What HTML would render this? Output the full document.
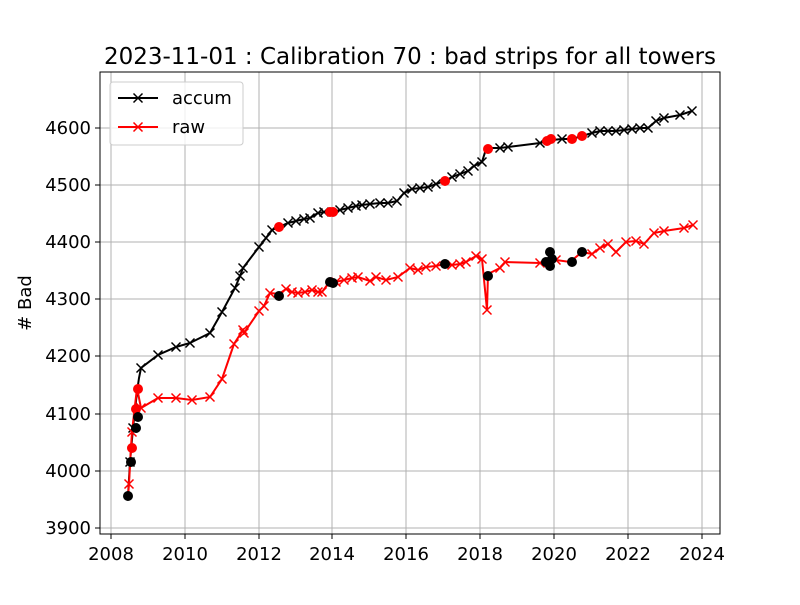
<!DOCTYPE html><html><head><style>body{margin:0;background:#fff}svg text{font-family:"DejaVu Sans","Liberation Sans",sans-serif}</style></head><body>
<svg width="800" height="600" xmlns="http://www.w3.org/2000/svg">
<rect width="800" height="600" fill="#fff"/>
<g stroke="#b0b0b0" stroke-width="1">
<line x1="111" y1="72" x2="111" y2="534"/><line x1="185" y1="72" x2="185" y2="534"/><line x1="259" y1="72" x2="259" y2="534"/><line x1="332" y1="72" x2="332" y2="534"/><line x1="406" y1="72" x2="406" y2="534"/><line x1="480" y1="72" x2="480" y2="534"/><line x1="554" y1="72" x2="554" y2="534"/><line x1="628" y1="72" x2="628" y2="534"/><line x1="702" y1="72" x2="702" y2="534"/>
<line x1="100" y1="128" x2="720" y2="128"/><line x1="100" y1="185" x2="720" y2="185"/><line x1="100" y1="242" x2="720" y2="242"/><line x1="100" y1="299" x2="720" y2="299"/><line x1="100" y1="356" x2="720" y2="356"/><line x1="100" y1="414" x2="720" y2="414"/><line x1="100" y1="471" x2="720" y2="471"/><line x1="100" y1="528" x2="720" y2="528"/>
</g>
<defs>
<path id="xk" d="M-4.5,-4.5L4.5,4.5M-4.5,4.5L4.5,-4.5" stroke="#000" stroke-width="1.5" fill="none"/>
<path id="xr" d="M-4.5,-4.5L4.5,4.5M-4.5,4.5L4.5,-4.5" stroke="#f00" stroke-width="1.5" fill="none"/>
</defs>
<polyline fill="none" stroke="#000" stroke-width="2" points="128,496 130,462 133,428 135,410 137,392 139,378 141,368 158,355 176,347 190,343 210,333 222,312 235,288 240,276 243,268 259,247 266,238 272,230 279,227 288,223 296,221 304,219 310,218 318,213 324,212 332,212 340,210 348,208 356,206 362,205 370,204 380,203 388,203 397,201 404,193 412,189 420,188 428,187 436,184 445,181 452,177 460,174 468,171 474,166 482,162 486,149 490,148 500,148 508,147 540,143 548,141 552,140 562,139 572,139 582,136 592,133 600,131 608,131 616,131 624,130 632,129 640,128 648,128 656,121 664,118 680,115 692,111"/>
<polyline fill="none" stroke="#f00" stroke-width="2" points="128,496 129,484 131,447 132,432 134,414 137,388 141,408 158,398 176,398 192,400 210,397 222,379 234,344 243,330 244,333 259,311 264,306 270,293 279,294 286,289 292,292 298,293 305,292 312,290 318,292 322,292 331,280 336,282 344,280 352,278 358,277 370,281 376,277 386,280 398,277 410,268 418,270 426,267 436,266 444,264 452,265 460,264 466,262 476,256 482,259 487,310 488,274 500,268 505,262 540,263 548,261 556,260 570,262 582,252 592,254 600,248 608,244 616,252 626,242 636,241 644,244 654,233 664,231 684,228 693,225"/>
<g>
<use href="#xk" x="130" y="462"/><use href="#xk" x="133" y="428"/><use href="#xk" x="141" y="368"/><use href="#xk" x="158" y="355"/><use href="#xk" x="176" y="347"/><use href="#xk" x="190" y="343"/><use href="#xk" x="210" y="333"/><use href="#xk" x="222" y="312"/><use href="#xk" x="235" y="288"/><use href="#xk" x="240" y="276"/><use href="#xk" x="243" y="268"/><use href="#xk" x="259" y="247"/><use href="#xk" x="266" y="238"/><use href="#xk" x="272" y="230"/><use href="#xk" x="288" y="223"/><use href="#xk" x="296" y="221"/><use href="#xk" x="304" y="219"/><use href="#xk" x="310" y="218"/><use href="#xk" x="318" y="213"/><use href="#xk" x="324" y="212"/><use href="#xk" x="340" y="210"/><use href="#xk" x="348" y="208"/><use href="#xk" x="356" y="206"/><use href="#xk" x="362" y="205"/><use href="#xk" x="370" y="204"/><use href="#xk" x="380" y="203"/><use href="#xk" x="388" y="203"/><use href="#xk" x="397" y="201"/><use href="#xk" x="404" y="193"/><use href="#xk" x="412" y="189"/><use href="#xk" x="420" y="188"/><use href="#xk" x="428" y="187"/><use href="#xk" x="436" y="184"/><use href="#xk" x="452" y="177"/><use href="#xk" x="460" y="174"/><use href="#xk" x="468" y="171"/><use href="#xk" x="474" y="166"/><use href="#xk" x="482" y="162"/><use href="#xk" x="500" y="148"/><use href="#xk" x="508" y="147"/><use href="#xk" x="540" y="143"/><use href="#xk" x="562" y="139"/><use href="#xk" x="592" y="133"/><use href="#xk" x="600" y="131"/><use href="#xk" x="608" y="131"/><use href="#xk" x="616" y="131"/><use href="#xk" x="624" y="130"/><use href="#xk" x="632" y="129"/><use href="#xk" x="640" y="128"/><use href="#xk" x="648" y="128"/><use href="#xk" x="656" y="121"/><use href="#xk" x="664" y="118"/><use href="#xk" x="680" y="115"/><use href="#xk" x="692" y="111"/>
<use href="#xr" x="129" y="484"/><use href="#xr" x="132" y="432"/><use href="#xr" x="141" y="408"/><use href="#xr" x="158" y="398"/><use href="#xr" x="176" y="398"/><use href="#xr" x="192" y="400"/><use href="#xr" x="210" y="397"/><use href="#xr" x="222" y="379"/><use href="#xr" x="234" y="344"/><use href="#xr" x="243" y="330"/><use href="#xr" x="244" y="333"/><use href="#xr" x="259" y="311"/><use href="#xr" x="264" y="306"/><use href="#xr" x="270" y="293"/><use href="#xr" x="286" y="289"/><use href="#xr" x="292" y="292"/><use href="#xr" x="298" y="293"/><use href="#xr" x="305" y="292"/><use href="#xr" x="312" y="290"/><use href="#xr" x="318" y="292"/><use href="#xr" x="322" y="292"/><use href="#xr" x="336" y="282"/><use href="#xr" x="344" y="280"/><use href="#xr" x="352" y="278"/><use href="#xr" x="358" y="277"/><use href="#xr" x="370" y="281"/><use href="#xr" x="376" y="277"/><use href="#xr" x="386" y="280"/><use href="#xr" x="398" y="277"/><use href="#xr" x="410" y="268"/><use href="#xr" x="418" y="270"/><use href="#xr" x="426" y="267"/><use href="#xr" x="436" y="266"/><use href="#xr" x="452" y="265"/><use href="#xr" x="460" y="264"/><use href="#xr" x="466" y="262"/><use href="#xr" x="476" y="256"/><use href="#xr" x="482" y="259"/><use href="#xr" x="487" y="310"/><use href="#xr" x="500" y="268"/><use href="#xr" x="505" y="262"/><use href="#xr" x="540" y="263"/><use href="#xr" x="556" y="260"/><use href="#xr" x="592" y="254"/><use href="#xr" x="600" y="248"/><use href="#xr" x="608" y="244"/><use href="#xr" x="616" y="252"/><use href="#xr" x="626" y="242"/><use href="#xr" x="636" y="241"/><use href="#xr" x="644" y="244"/><use href="#xr" x="654" y="233"/><use href="#xr" x="664" y="231"/><use href="#xr" x="684" y="228"/><use href="#xr" x="693" y="225"/>
</g>
<g fill="#f00">
<circle cx="132" cy="448" r="5"/><circle cx="136" cy="409" r="5"/><circle cx="138" cy="389" r="5"/><circle cx="279" cy="227" r="5"/><circle cx="330" cy="212" r="5"/><circle cx="333" cy="212" r="5"/><circle cx="445" cy="181" r="5"/><circle cx="488" cy="149" r="5"/><circle cx="547" cy="141" r="5"/><circle cx="551" cy="139" r="5"/><circle cx="572" cy="139" r="5"/><circle cx="582" cy="136" r="5"/>
</g>
<g fill="#000">
<circle cx="128" cy="496" r="5"/><circle cx="131" cy="462" r="5"/><circle cx="136" cy="428" r="5"/><circle cx="138" cy="417" r="5"/><circle cx="279" cy="296" r="5"/><circle cx="330" cy="282" r="5"/><circle cx="333" cy="283" r="5"/><circle cx="445" cy="264" r="5"/><circle cx="488" cy="276" r="5"/><circle cx="546" cy="262" r="5"/><circle cx="550" cy="252" r="5"/><circle cx="550" cy="266" r="5"/><circle cx="552" cy="259" r="5"/><circle cx="572" cy="262" r="5"/><circle cx="582" cy="252" r="5"/>
</g>
<rect x="100" y="72" width="620" height="462" fill="none" stroke="#000" stroke-width="1"/>
<g stroke="#000" stroke-width="1">
<line x1="111" y1="534" x2="111" y2="539"/><line x1="185" y1="534" x2="185" y2="539"/><line x1="259" y1="534" x2="259" y2="539"/><line x1="332" y1="534" x2="332" y2="539"/><line x1="406" y1="534" x2="406" y2="539"/><line x1="480" y1="534" x2="480" y2="539"/><line x1="554" y1="534" x2="554" y2="539"/><line x1="628" y1="534" x2="628" y2="539"/><line x1="702" y1="534" x2="702" y2="539"/>
<line x1="95" y1="128" x2="100" y2="128"/><line x1="95" y1="185" x2="100" y2="185"/><line x1="95" y1="242" x2="100" y2="242"/><line x1="95" y1="299" x2="100" y2="299"/><line x1="95" y1="356" x2="100" y2="356"/><line x1="95" y1="414" x2="100" y2="414"/><line x1="95" y1="471" x2="100" y2="471"/><line x1="95" y1="528" x2="100" y2="528"/>
</g>
<g font-size="18" fill="#000" text-anchor="middle">
<text x="111" y="560">2008</text><text x="185" y="560">2010</text><text x="259" y="560">2012</text><text x="332" y="560">2014</text><text x="406" y="560">2016</text><text x="480" y="560">2018</text><text x="554" y="560">2020</text><text x="628" y="560">2022</text><text x="702" y="560">2024</text>
</g>
<g font-size="18" fill="#000" text-anchor="end">
<text x="91" y="134">4600</text><text x="91" y="191">4500</text><text x="91" y="248">4400</text><text x="91" y="305">4300</text><text x="91" y="362">4200</text><text x="91" y="420">4100</text><text x="91" y="477">4000</text><text x="91" y="534">3900</text>
</g>
<text x="31" y="303" font-size="18" text-anchor="middle" transform="rotate(-90 31 303)"># Bad</text>
<text x="410" y="64" font-size="23" text-anchor="middle">2023-11-01 : Calibration 70 : bad strips for all towers</text>
<rect x="110" y="82" width="133" height="63" rx="3" fill="#fff" fill-opacity="0.8" stroke="#ccc"/>
<line x1="118" y1="98" x2="158" y2="98" stroke="#000" stroke-width="2"/><use href="#xk" x="138" y="98"/>
<line x1="118" y1="127" x2="158" y2="127" stroke="#f00" stroke-width="2"/><use href="#xr" x="138" y="127"/>
<text x="172" y="104" font-size="18">accum</text><text x="172" y="133" font-size="18">raw</text>
</svg></body></html>
